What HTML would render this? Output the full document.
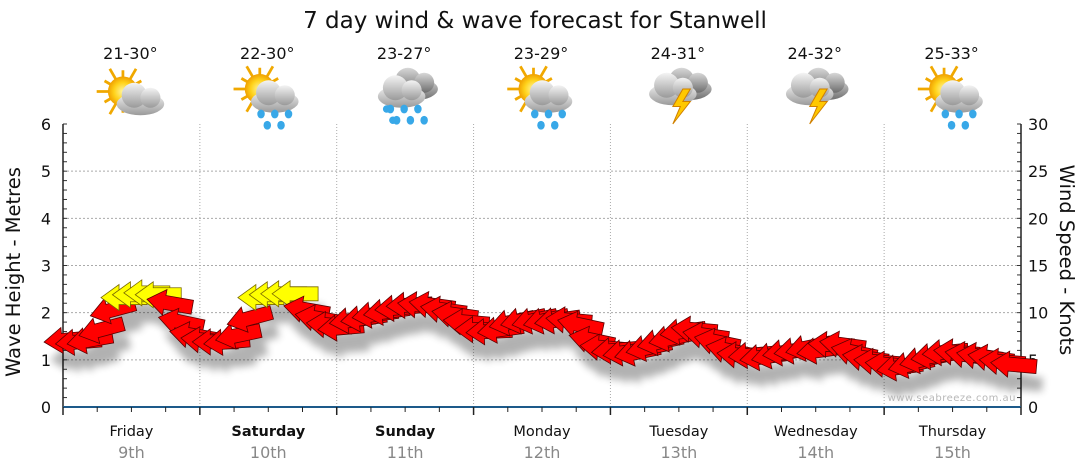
<!DOCTYPE html>
<html><head><meta charset="utf-8"><style>
html,body{margin:0;padding:0;background:#fff;}
svg{display:block;font-family:"DejaVu Sans","Liberation Sans",sans-serif;}
</style></head><body>
<svg id="chart" width="1080" height="475" viewBox="0 0 1080 475" xmlns="http://www.w3.org/2000/svg">
<defs>
<filter id="sh" x="-50%" y="-50%" width="200%" height="250%"><feGaussianBlur stdDeviation="4"/></filter>
<radialGradient id="sun" cx="50%" cy="50%" r="50%"><stop offset="0" stop-color="#fff6a0"/><stop offset="0.6" stop-color="#ffd21a"/><stop offset="1" stop-color="#f0a000"/></radialGradient>
<linearGradient id="cloud" x1="0" y1="0" x2="0" y2="1"><stop offset="0" stop-color="#f4f4f4"/><stop offset="1" stop-color="#9a9a9a"/></linearGradient>
<linearGradient id="dcloud" x1="0" y1="0" x2="0" y2="1"><stop offset="0" stop-color="#d8d8d8"/><stop offset="1" stop-color="#6e6e6e"/></linearGradient>
</defs>
<text x="535" y="28" text-anchor="middle" font-size="23" fill="#111">7 day wind &amp; wave forecast for Stanwell</text>
<text transform="translate(20,272) rotate(-90)" text-anchor="middle" font-size="19.5" fill="#111">Wave Height - Metres</text>
<text transform="translate(1060,260) rotate(90)" text-anchor="middle" font-size="19.5" fill="#111">Wind Speed - Knots</text>
<g id="grid"></g>
<g id="axes"></g>
<g id="shadow" filter="url(#sh)" opacity="0.3"></g>
<g id="arrows"></g>
<g id="days"></g>
<g id="icons"></g>
<text x="1016" y="401" text-anchor="end" font-size="10" fill="#b8b8b8" letter-spacing="0.5">www.seabreeze.com.au</text>
</svg>
<script>
const dayNames = ["Friday","Saturday","Sunday","Monday","Tuesday","Wednesday","Thursday"];
const dayDates = ["9th","10th","11th","12th","13th","14th","15th"];
const dayBold = [false,true,true,false,false,false,false];
const tempRanges = ["21-30°","22-30°","23-27°","23-29°","24-31°","24-32°","25-33°"];
const iconTypes = ["suncloud","sunrain","rain","sunrain","storm","storm","sunrain"];
const waveTicks = [0,1,2,3,4,5,6];
const windTicks = [0,5,10,15,20,25,30];
// 2-hourly wind speed (knots)
const windSpeed = [
 7.1,6.9,7.1,8.2,10.3,11.6,11.9,12.1,11.9,11.0,9.0,7.6,
 7.1,6.9,6.9,7.6,9.4,11.6,11.9,12.0,12.0,10.3,9.4,8.7,
 8.4,9.2,9.4,9.8,10.1,10.5,10.8,10.8,10.8,10.3,9.8,9.0,
 8.2,8.0,8.2,9.0,9.2,9.2,9.2,9.2,9.2,8.7,7.1,6.3,
 6.0,5.8,5.8,6.3,6.9,7.3,8.0,8.2,7.6,6.9,6.0,5.5,
 5.5,5.3,5.5,5.8,6.0,6.3,6.0,6.6,6.6,5.8,5.2,4.8,
 4.5,4.2,4.5,5.0,5.4,5.8,5.8,5.5,5.4,5.2,4.8,4.5];
// arrow tilt (degrees, positive = tip raised)
const windTilt = [
 5,5,10,15,15,0,0,0,0,-10,-12,-10,
 -5,0,5,12,15,0,0,0,0,-10,-10,-5,
 5,8,8,8,8,5,3,-5,-8,-8,-8,-5,
 0,3,8,12,12,12,12,8,-5,-12,-12,-5,
 5,8,12,12,12,12,8,-5,-8,-12,-12,-5,
 5,8,12,8,8,12,8,-3,-8,-12,-8,-5,
 -5,8,12,12,8,5,-5,-8,-8,-8,-5,-5];

const NS="http://www.w3.org/2000/svg";
const X0=63,X1=1021,Y0=407,Y1=124;
const dayW=(X1-X0)/7;
function xT(i){return X0+i*dayW/12;}
function yWave(v){return Y0-(v/6)*(Y0-Y1);}
function yWind(v){return Y0-(v/30)*(Y0-Y1);}
function el(tag,attrs,parent){const e=document.createElementNS(NS,tag);for(const k in attrs)e.setAttribute(k,attrs[k]);parent.appendChild(e);return e;}
const grid=document.getElementById('grid'),axes=document.getElementById('axes');
waveTicks.forEach(v=>{
  if(v>0&&v<6){const g=el('line',{x1:X0,x2:X1,y1:yWave(v),y2:yWave(v),stroke:'#aaa','stroke-dasharray':'2,2','stroke-width':1},grid);
  
  }
  const t=el('text',{x:51,y:yWave(v)+6,'text-anchor':'end','font-size':16,fill:'#111'},axes);t.textContent=v;
  
  
});
for(let v=0;v<=6.001;v+=0.2){const y=yWave(v);el('line',{x1:X0,x2:X0+4,y1:y,y2:y,stroke:'#333'},axes);}
for(let v=0;v<=30;v+=1){const y=yWind(v);el('line',{x1:X1-4,x2:X1,y1:y,y2:y,stroke:'#333'},axes);}
windTicks.forEach(v=>{const t=el('text',{x:1028,y:yWind(v)+6,'font-size':16,fill:'#111'},axes);t.textContent=v;
  
  });
for(let d=1;d<7;d++){const g=el('line',{x1:X0+d*dayW,x2:X0+d*dayW,y1:Y1,y2:Y0,stroke:'#aaa','stroke-dasharray':'1,2'},grid);
  
  }
el('line',{x1:X0,x2:X0,y1:Y1,y2:Y0,stroke:'#222','stroke-width':1.5},axes);
el('line',{x1:X1,x2:X1,y1:Y1,y2:Y0,stroke:'#222','stroke-width':1.5},axes);
el('line',{x1:X0,x2:X1,y1:Y0,y2:Y0,stroke:'#1d5a8a','stroke-width':2},axes);
for(let k=0;k<=28;k++){const x=X0+k*dayW/4;el('line',{x1:x,x2:x,y1:Y0,y2:Y0+(k%4==0?8:5),stroke:'#222','stroke-width':k%4==0?1.5:1},axes);}
// arrows
const arrows=document.getElementById('arrows'),shadow=document.getElementById('shadow');
const arrowPath="M-23,0 L-5,-13 L-5,-7 L23,-7 L23,7 L-5,7 L-5,13 Z";
windSpeed.forEach((v,i)=>{
  const x=xT(i)+4,y=yWind(v);
  el('path',{d:arrowPath,fill:'#000',transform:`translate(${x+6},${y+18}) rotate(${-windTilt[i]})`},shadow);
  const yellow=v>=11.5;
  const a=el('path',{d:arrowPath,fill:yellow?'#ffff00':'#ff0000',stroke:yellow?'#7a6a00':'#5a0000','stroke-width':0.8,transform:`translate(${x},${y}) rotate(${-windTilt[i]})`},arrows);
  
  
});
// day labels
const days=document.getElementById('days');
dayNames.forEach((n,i)=>{
  const cx=X0+(i+0.5)*dayW;
  const t=el('text',{x:cx,y:436,'text-anchor':'middle','font-size':14.5,fill:'#111','font-weight':dayBold[i]?'bold':'normal'},days);t.textContent=n;
  
  
  const d=el('text',{x:cx,y:458,'text-anchor':'middle','font-size':16,fill:'#888'},days);d.textContent=dayDates[i];
  
  
  const tt=el('text',{x:cx-1,y:59,'text-anchor':'middle','font-size':16,fill:'#111'},days);tt.textContent=tempRanges[i];
  
  
});
// icons
const icons=document.getElementById('icons');
function sun(g,x,y){for(let k=0;k<12;k++){const a=k*Math.PI/6;el('line',{x1:x+Math.cos(a)*10,y1:y+Math.sin(a)*10,x2:x+Math.cos(a)*(k%2?17:21),y2:y+Math.sin(a)*(k%2?17:21),stroke:'#f0a800','stroke-width':2.2},g);}el('circle',{cx:x,cy:y,r:12,fill:'url(#sun)'},g);}
function cloud(g,x,y,f){el('ellipse',{cx:x,cy:y+6,rx:19,ry:9,fill:f},g);el('circle',{cx:x-5,cy:y-1,r:10,fill:f},g);el('circle',{cx:x+8,cy:y+1,r:8,fill:f},g);}
function drops(g,x,y,n){for(let k=0;k<n;k++){el('ellipse',{cx:x+(k%3)*11-11+(k>=3?5:0),cy:y+(k>=3?9:0),rx:3,ry:3.5,fill:'#38a8e8'},g);}}
iconTypes.forEach((tp,i)=>{
  const cx=0,cy=0;
  const g=el('g',{transform:`translate(${X0+(i+0.5)*dayW-1},94) scale(1.25)`},icons);
  
  
  if(tp==='suncloud'){sun(g,cx-6,cy-2);cloud(g,cx+8,cy+2,'url(#cloud)');}
  else if(tp==='sunrain'){sun(g,cx-6,cy-4);cloud(g,cx+6,cy,'url(#cloud)');drops(g,cx+6,cy+16,5);}
  else if(tp==='rain'){cloud(g,cx+8,cy-10,'url(#dcloud)');cloud(g,cx-2,cy-4,'url(#cloud)');drops(g,cx,cy+12,6);el('circle',{cx:cx-14,cy:cy+12,r:3,fill:'#38a8e8'},g);el('circle',{cx:cx-9,cy:cy+21,r:3,fill:'#38a8e8'},g);}
  else {cloud(g,cx+8,cy-10,'url(#dcloud)');cloud(g,cx-4,cy-6,'url(#cloud)');el('path',{d:`M${cx+4},${cy-4} L${cx-4},${cy+10} L${cx+2},${cy+10} L${cx-4},${cy+24} L${cx+10},${cy+6} L${cx+4},${cy+6} L${cx+10},${cy-4} Z`,fill:'#ffc800',stroke:'#d08000','stroke-width':0.8},g);}
});
</script>
</body></html>
